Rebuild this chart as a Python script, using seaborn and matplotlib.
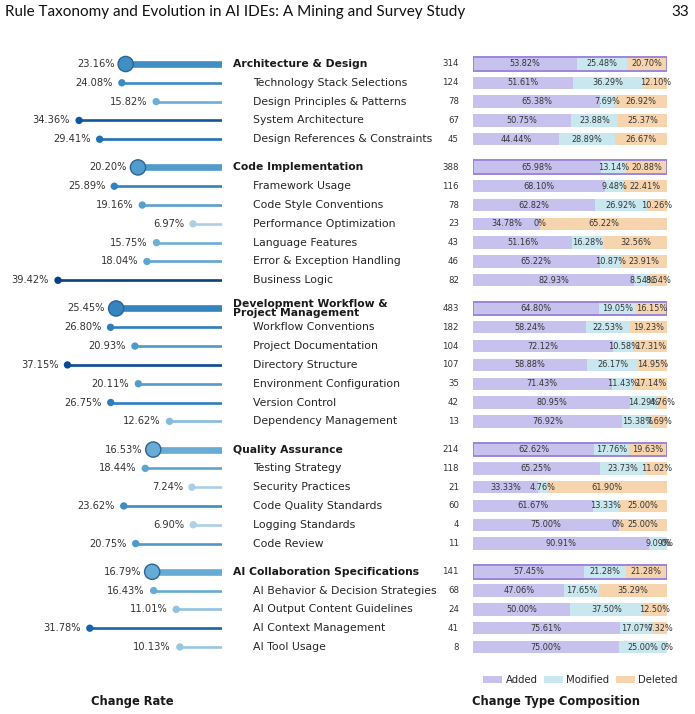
import numpy as np
import matplotlib
matplotlib.use('Agg')
import matplotlib.pyplot as plt
import matplotlib.transforms as mtrans
from matplotlib.patches import Patch
import seaborn as sns

# rows, top to bottom (level 0 = category, 1 = sub-category)
names = [
    'Architecture & Design', 'Technology Stack Selections', 'Design Principles & Patterns',
    'System Architecture', 'Design References & Constraints',
    'Code Implementation', 'Framework Usage', 'Code Style Conventions', 'Performance Optimization',
    'Language Features', 'Error & Exception Handling', 'Business Logic',
    'Development Workflow &\nProject Management', 'Workflow Conventions', 'Project Documentation',
    'Directory Structure', 'Environment Configuration', 'Version Control', 'Dependency Management',
    'Quality Assurance', 'Testing Strategy', 'Security Practices', 'Code Quality Standards',
    'Logging Standards', 'Code Review',
    'AI Collaboration Specifications', 'AI Behavior & Decision Strategies',
    'AI Output Content Guidelines', 'AI Context Management', 'AI Tool Usage',
]
levels = [0, 1, 1, 1, 1,
          0, 1, 1, 1, 1, 1, 1,
          0, 1, 1, 1, 1, 1, 1,
          0, 1, 1, 1, 1, 1,
          0, 1, 1, 1, 1]
change_rate = [23.16, 24.08, 15.82, 34.36, 29.41,
               20.20, 25.89, 19.16, 6.97, 15.75, 18.04, 39.42,
               25.45, 26.80, 20.93, 37.15, 20.11, 26.75, 12.62,
               16.53, 18.44, 7.24, 23.62, 6.90, 20.75,
               16.79, 16.43, 11.01, 31.78, 10.13]
counts = [314, 124, 78, 67, 45,
          388, 116, 78, 23, 43, 46, 82,
          483, 182, 104, 107, 35, 42, 13,
          214, 118, 21, 60, 4, 11,
          141, 68, 24, 41, 8]
added = [53.82, 51.61, 65.38, 50.75, 44.44,
         65.98, 68.10, 62.82, 34.78, 51.16, 65.22, 82.93,
         64.80, 58.24, 72.12, 58.88, 71.43, 80.95, 76.92,
         62.62, 65.25, 33.33, 61.67, 75.00, 90.91,
         57.45, 47.06, 50.00, 75.61, 75.00]
modified = [25.48, 36.29, 7.69, 23.88, 28.89,
            13.14, 9.48, 26.92, 0, 16.28, 10.87, 8.54,
            19.05, 22.53, 10.58, 26.17, 11.43, 14.29, 15.38,
            17.76, 23.73, 4.76, 13.33, 0, 9.09,
            21.28, 17.65, 37.50, 17.07, 25.00]
deleted = [20.70, 12.10, 26.92, 25.37, 26.67,
           20.88, 22.41, 10.26, 65.22, 32.56, 23.91, 8.54,
           16.15, 19.23, 17.31, 14.95, 17.14, 4.76, 7.69,
           19.63, 11.02, 61.90, 25.00, 25.00, 0,
           21.28, 35.29, 12.50, 7.32, 0]

change_types = ['Added', 'Modified', 'Deleted']
type_colors = ['#c6c1ed', '#c8e7ef', '#f6d5ae']

sns.set_style('white')
plt.rcParams['font.family'] = ['DejaVu Sans']

# y positions with a half-row gap between groups
ypos = []
p = 0.0
for i, lv in enumerate(levels):
    if i > 0:
        p += 1.0
        if lv == 0:
            p += 0.5
    ypos.append(p)
ypos = np.array(ypos)
rate = np.array(change_rate)
is_cat = np.array(levels) == 0

W, H = 695, 714
fig = plt.figure(figsize=(W / 100, H / 100), dpi=100)
top_px, bot_px = 64 - 0.6 * 18.81, 647 + 0.6 * 18.81
bottom = 1 - bot_px / H
height = (bot_px - top_px) / H
ax_l = fig.add_axes([14 / W, bottom, 208 / W, height])
ax_r = fig.add_axes([473 / W, bottom, 194 / W, height])
for ax in (ax_l, ax_r):
    ax.set_ylim(ypos[-1] + 0.6, -0.6)
    ax.axis('off')

# lollipops (change rate)
cmap = plt.get_cmap('Blues')
hue_lo, hue_hi = -10.67, 42.67
colors = [cmap((v - hue_lo) / (hue_hi - hue_lo)) for v in rate]
for y, v, c, cat in zip(ypos, rate, colors, is_cat):
    ax_l.plot([0, v], [y, y], color=c, lw=4.8 if cat else 1.9,
              solid_capstyle='butt', zorder=1)
sns.scatterplot(x=rate[~is_cat], y=ypos[~is_cat], hue=rate[~is_cat], palette='Blues',
                hue_norm=(hue_lo, hue_hi), s=28, linewidth=0, legend=False, ax=ax_l, zorder=3)
sns.scatterplot(x=rate[is_cat], y=ypos[is_cat], hue=rate[is_cat], palette='Blues',
                hue_norm=(hue_lo, hue_hi), s=120, edgecolor='#2f6394', linewidth=1.0,
                legend=False, ax=ax_l, zorder=3)
ax_l.set_xlim(50, 0)
ax_l.set_ylim(ypos[-1] + 0.6, -0.6)
ax_l.axis('off')
for y, v, cat in zip(ypos, rate, is_cat):
    ax_l.annotate(f'{v:.2f}%', (v, y), xytext=(-8 if cat else -6.5, 0), textcoords='offset points',
                  ha='right', va='center', fontsize=7.1, color='#333333')

# names and counts
tr = mtrans.blended_transform_factory(fig.transFigure, ax_r.transData)
for y, nm, cat, n in zip(ypos, names, is_cat, counts):
    if cat:
        fig.text(233 / W, y, nm, transform=tr, ha='left', va='center', fontsize=7.75,
                 fontweight='bold', color='#1a1a1a', linespacing=0.95)
    else:
        fig.text(253 / W, y, nm, transform=tr, ha='left', va='center', fontsize=7.8,
                 color='#262626')
    fig.text(459 / W, y, str(n), transform=tr, ha='right', va='center', fontsize=6.2,
             color='#333333')

# stacked composition bars
add = np.array(added)
mod = np.array(modified)
dele = np.array(deleted)
bh = 0.66
ax_r.barh(ypos, add, height=bh, color=type_colors[0], lw=0)
ax_r.barh(ypos, mod, left=add, height=bh, color=type_colors[1], lw=0)
ax_r.barh(ypos, dele, left=add + mod, height=bh, color=type_colors[2], lw=0)
ax_r.barh(ypos[is_cat], [100] * is_cat.sum(), height=bh + 0.08, fill=False,
          edgecolor='#9d84d8', lw=1.4)
ax_r.set_xlim(0, 100)
for y, a, m, d in zip(ypos, add, mod, dele):
    for left, w in ((0, a), (a, m), (a + m, d)):
        lbl = '0%' if w == 0 else f'{w:.2f}%'
        ax_r.text(left + w / 2, y, lbl, ha='center', va='center', fontsize=5.9,
                  color='#333333')

# legend + panel captions
handles = [Patch(facecolor=c, edgecolor='none') for c in type_colors]
fig.legend(handles, change_types, loc='center right', bbox_to_anchor=(685 / W, 1 - 680 / H),
           ncol=3, frameon=False, fontsize=7.3, handlelength=1.85, handleheight=0.75,
           columnspacing=0.65, handletextpad=0.35, borderpad=0.2)
fig.text(132 / W, 1 - 701 / H, 'Change Rate', ha='center', va='center', fontsize=8.3,
         fontweight='bold', color='#1a1a1a')
fig.text(556 / W, 1 - 701 / H, 'Change Type Composition', ha='center', va='center',
         fontsize=8.3, fontweight='bold', color='#1a1a1a')

# page header
fig.text(5 / W, 1 - 12 / H, 'Rule Taxonomy and Evolution in AI IDEs: A Mining and Survey Study',
         ha='left', va='center', fontsize=11, family=['Lato', 'DejaVu Sans'], color='#111111')
fig.text(689 / W, 1 - 12 / H, '33', ha='right', va='center', fontsize=11,
         family=['Lato', 'DejaVu Sans'], color='#111111')

fig.savefig('out.png', dpi=100)
